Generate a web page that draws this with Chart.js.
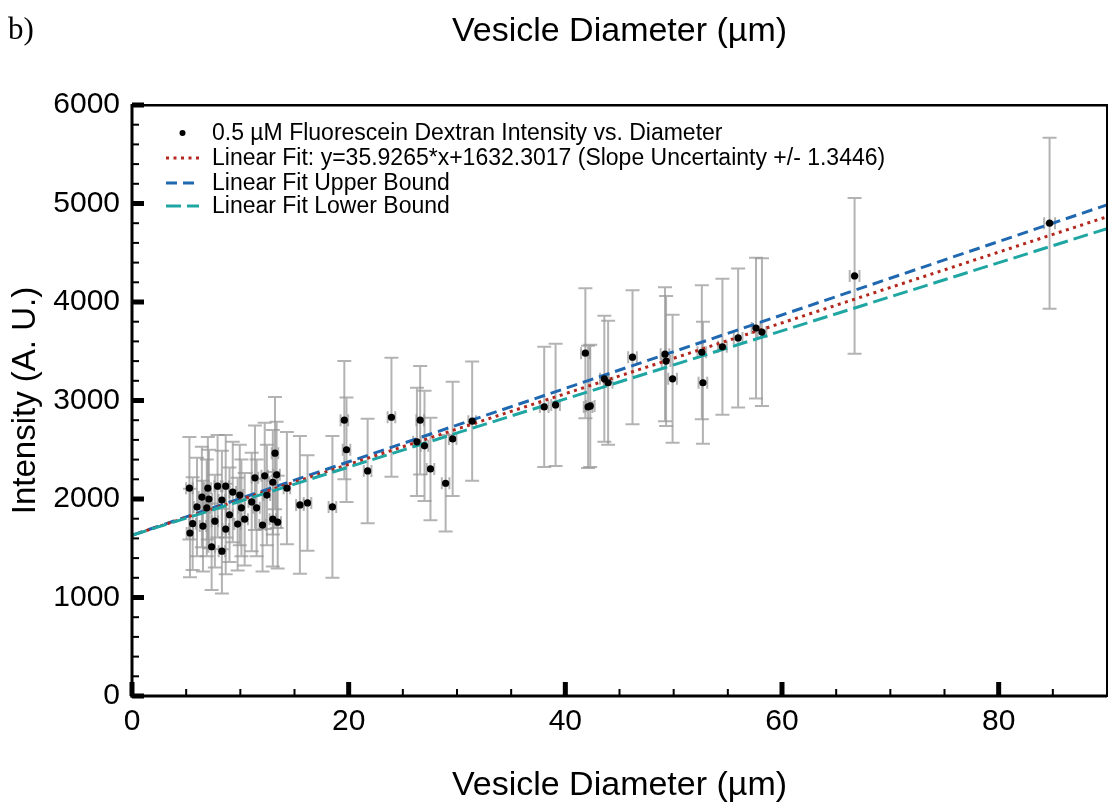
<!DOCTYPE html>
<html>
<head>
<meta charset="utf-8">
<script src="https://cdn.jsdelivr.net/npm/chart.js@4.4.0/dist/chart.umd.min.js"></script>
<style>
html, body { margin: 0; padding: 0; background: #fff; }
#wrap { position: relative; width: 1111px; height: 806px; }
#tag { position: absolute; left: 8px; top: 12px; font: 31px "Liberation Serif", "DejaVu Serif", serif; line-height: 34px; color: #000; }
canvas { position: absolute; left: 0; top: 0; }
</style>
</head>
<body>
<div id="wrap">
  <canvas id="grafico" width="1111" height="806"></canvas>
  <div id="tag">b)</div>
</div>
<script>
// datos
var diameters = [5.3, 5.35, 5.6, 6.0, 6.45, 6.55, 6.9, 7.0, 7.1, 7.35,
    7.65, 7.9, 8.3, 8.3, 8.65, 8.65, 9.0, 9.3, 9.75, 9.95,
    10.1, 10.4, 11.05, 11.35, 11.5, 12.05, 12.25, 12.45, 13.0, 13.0,
    13.2, 13.35, 13.45, 14.3, 15.5, 16.2, 18.5, 19.6, 19.8, 21.75,
    23.95, 26.3, 26.6, 27.0, 27.55, 28.95, 29.6, 31.4, 38.05, 39.1,
    41.85, 42.1, 42.3, 43.6, 43.95, 46.2, 49.2, 49.3, 49.9, 52.6,
    52.7, 54.5, 55.95, 57.6, 58.15, 66.7, 84.7];
var intensities = [2110, 1655, 1750, 1920, 2020, 1725, 1910, 2110, 2000, 1515,
    1775, 2130, 1990, 1470, 2130, 1695, 1840, 2070, 1745, 2040,
    1910, 1795, 1970, 2215, 1910, 1735, 2235, 2040, 2170, 1795,
    2465, 2245, 1765, 2110, 1940, 1960, 1920, 2800, 2500, 2285,
    2830, 2580, 2800, 2540, 2305, 2160, 2610, 2790, 2935, 2955,
    3480, 2935, 2945, 3220, 3180, 3440, 3470, 3400, 3220, 3490,
    3180, 3545, 3635, 3735, 3695, 4265, 4800];
var intensityErr = [520, 450, 470, 500, 510, 460, 490, 520, 500, 440,
    470, 520, 500, 430, 520, 460, 480, 510, 470, 510,
    490, 470, 500, 530, 490, 470, 540, 510, 530, 480,
    570, 540, 470, 570, 700, 485, 720, 600, 530, 530,
    605, 550, 550, 560, 520, 490, 580, 605, 610, 620,
    660, 620, 620, 640, 630, 680, 680, 660, 650, 680,
    620, 690, 705, 715, 750, 790, 868];
var diameterErr = [0.3, 0.3, 0.3, 0.3, 0.3, 0.3, 0.3, 0.3, 0.3, 0.3,
    0.3, 0.3, 0.3, 0.3, 0.3, 0.3, 0.3, 0.3, 0.3, 0.3,
    0.3, 0.3, 0.3, 0.3, 0.3, 0.3, 0.3, 0.3, 0.3, 0.3,
    0.3, 0.3, 0.3, 0.3, 0.35, 0.35, 0.35, 0.35, 0.35, 0.35,
    0.35, 0.35, 0.35, 0.35, 0.35, 0.35, 0.35, 0.35, 0.4, 0.4,
    0.4, 0.4, 0.4, 0.4, 0.4, 0.4, 0.4, 0.4, 0.4, 0.4,
    0.4, 0.4, 0.4, 0.4, 0.4, 0.45, 0.5];

var fitSlope = 35.9265;
var fitIntercept = 1632.3017;
var slopeUnc = 1.3446;
var fitRange = [0, 90];

var xTicks = [0, 20, 40, 60, 80];
var yTicks = [0, 1000, 2000, 3000, 4000, 5000, 6000];

var titleText = 'Vesicle Diameter (\u00b5m)';
var legendLabels = [
    '0.5 \u00b5M Fluorescein Dextran Intensity vs. Diameter',
    'Linear Fit: y=35.9265*x+1632.3017 (Slope Uncertainty +/- 1.3446)',
    'Linear Fit Upper Bound',
    'Linear Fit Lower Bound'
];

var fuente = "'Liberation Sans', Arial, Helvetica, sans-serif";

function recta(m) {
    return fitRange.map(function(x) { return { x: x, y: fitIntercept + m * x }; });
}

var puntos = diameters.map(function(d, i) { return { x: d, y: intensities[i] }; });

// barras de error (gris) debajo de todo
var barras = {
    id: 'barras',
    beforeDatasetsDraw: function(chart) {
        var ctx = chart.ctx, xs = chart.scales.x, ys = chart.scales.y, a = chart.chartArea;
        ctx.save();
        ctx.beginPath();
        ctx.rect(a.left, a.top, a.right - a.left, a.bottom - a.top);
        ctx.clip();
        ctx.strokeStyle = 'rgba(150,150,150,0.72)';
        ctx.lineWidth = 2;
        for (var i = 0; i < diameters.length; i++) {
            var px = xs.getPixelForValue(diameters[i]);
            var py = ys.getPixelForValue(intensities[i]);
            var t = ys.getPixelForValue(intensities[i] + intensityErr[i]);
            var b = ys.getPixelForValue(intensities[i] - intensityErr[i]);
            var l = xs.getPixelForValue(diameters[i] - diameterErr[i]);
            var r = xs.getPixelForValue(diameters[i] + diameterErr[i]);
            ctx.beginPath();
            ctx.moveTo(px, t); ctx.lineTo(px, b);
            ctx.moveTo(px - 7, t); ctx.lineTo(px + 7, t);
            ctx.moveTo(px - 7, b); ctx.lineTo(px + 7, b);
            ctx.moveTo(l, py); ctx.lineTo(r, py);
            ctx.moveTo(l, py - 6); ctx.lineTo(l, py + 6);
            ctx.moveTo(r, py - 6); ctx.lineTo(r, py + 6);
            ctx.stroke();
        }
        ctx.restore();
    }
};

// marco y marcas hacia dentro
var ejes = {
    id: 'ejes',
    afterDatasetsDraw: function(chart) {
        var ctx = chart.ctx, xs = chart.scales.x, ys = chart.scales.y, a = chart.chartArea;
        var v, p;
        ctx.save();
        ctx.fillStyle = '#000';
        ctx.fillRect(a.left, a.top - 1, a.right - a.left, 2.5);
        ctx.fillRect(a.right - 1, a.top - 1, 2, a.bottom - a.top + 2);
        ctx.fillRect(a.left - 1.5, a.top - 1, 3, a.bottom - a.top + 2.5);
        ctx.fillRect(a.left - 1.5, a.bottom - 1.5, a.right - a.left + 1.5, 3);
        for (v = 0; v <= 6000; v += 200) {
            p = ys.getPixelForValue(v);
            if (v % 1000 === 0) ctx.fillRect(a.left, p - 2.5, 12, 5);
            else ctx.fillRect(a.left, p - 1, 7, 2);
        }
        for (v = 0; v <= 90; v += 5) {
            p = xs.getPixelForValue(v);
            if (v % 20 === 0) ctx.fillRect(p - 2.5, a.bottom - 14, 5, 14);
            else ctx.fillRect(p - 1, a.bottom - 7, 2, 7);
        }
        ctx.restore();
    }
};

// leyenda dentro del grafico y titulo centrado sobre el area
var leyenda = {
    id: 'leyenda',
    afterDraw: function(chart) {
        var ctx = chart.ctx, a = chart.chartArea;
        var x0 = a.left + 34, x1 = a.left + 67, xt = a.left + 80;
        var filas = [28, 53, 78, 101];
        var ds = chart.data.datasets;
        ctx.save();
        ctx.fillStyle = '#000';
        ctx.textBaseline = 'middle';
        ctx.textAlign = 'center';
        ctx.font = '34px ' + fuente;
        ctx.fillText(titleText, (a.left + a.right) / 2, 32);
        ctx.textAlign = 'left';
        ctx.font = '23px ' + fuente;
        for (var i = 0; i < legendLabels.length; i++) {
            var y = a.top + filas[i];
            if (i === 0) {
                ctx.beginPath();
                ctx.arc((x0 + x1) / 2, y, 3, 0, Math.PI * 2);
                ctx.fill();
            } else {
                ctx.beginPath();
                ctx.strokeStyle = ds[i].borderColor;
                ctx.lineWidth = ds[i].borderWidth;
                ctx.setLineDash(ds[i].borderDash);
                ctx.moveTo(x0, y);
                ctx.lineTo(x1, y);
                ctx.stroke();
                ctx.setLineDash([]);
            }
            ctx.fillText(legendLabels[i], xt, y + 1);
        }
        ctx.restore();
    }
};

function etiqueta(v) { return String(v); }

var mostrar = document.getElementById('grafico');
var grafico = new Chart(mostrar, {
    type: 'scatter',
    data: {
        datasets: [{
            label: legendLabels[0],
            data: puntos,
            backgroundColor: '#000',
            borderWidth: 0,
            pointRadius: 3.6,
            order: 0
        }, {
            type: 'line',
            label: legendLabels[1],
            data: recta(fitSlope),
            borderColor: '#b3271c',
            borderWidth: 3,
            borderDash: [3, 4.5],
            pointRadius: 0,
            fill: false,
            order: 2
        }, {
            type: 'line',
            label: legendLabels[2],
            data: recta(fitSlope + slopeUnc),
            borderColor: '#1f68b0',
            borderWidth: 3,
            borderDash: [11, 6],
            pointRadius: 0,
            fill: false,
            order: 3
        }, {
            type: 'line',
            label: legendLabels[3],
            data: recta(fitSlope - slopeUnc),
            borderColor: '#1fa6a3',
            borderWidth: 3,
            borderDash: [15, 6],
            pointRadius: 0,
            fill: false,
            order: 1
        }]
    },
    options: {
        responsive: false,
        animation: false,
        devicePixelRatio: 1,
        layout: { padding: { left: 0, right: 2, top: 105, bottom: 0 } },
        plugins: {
            legend: { display: false },
            tooltip: { enabled: false },
            title: { display: false }
        },
        scales: {
            x: {
                type: 'linear',
                min: 0,
                max: 90,
                afterBuildTicks: function(s) { s.ticks = xTicks.map(function(v) { return { value: v }; }); },
                afterFit: function(s) { s.height = 110; },
                ticks: { color: '#000', font: { family: fuente, size: 30 }, padding: 8, maxRotation: 0, callback: etiqueta },
                grid: { display: false, drawTicks: false },
                border: { display: false },
                title: {
                    display: true,
                    text: titleText,
                    color: '#000',
                    font: { family: fuente, size: 34, lineHeight: 1.2 },
                    padding: { top: 6, bottom: 0 }
                }
            },
            y: {
                type: 'linear',
                min: 0,
                max: 6000,
                afterBuildTicks: function(s) { s.ticks = yTicks.map(function(v) { return { value: v }; }); },
                afterFit: function(s) { s.width = 132; },
                ticks: { color: '#000', font: { family: fuente, size: 30 }, padding: 12, callback: etiqueta },
                grid: { display: false, drawTicks: false },
                border: { display: false },
                title: {
                    display: true,
                    text: 'Intensity (A. U.)',
                    color: '#000',
                    font: { family: fuente, size: 33, lineHeight: 1.2 },
                    padding: { top: 6, bottom: 0 }
                }
            }
        }
    },
    plugins: [barras, ejes, leyenda]
});
</script>
</body>
</html>
